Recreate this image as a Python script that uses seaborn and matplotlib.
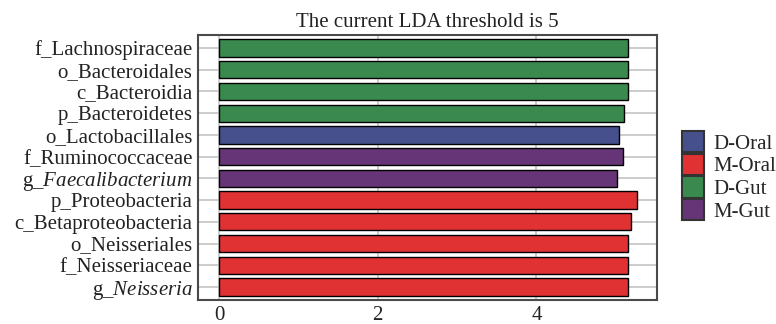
import matplotlib
matplotlib.use("Agg")
import matplotlib.pyplot as plt
import seaborn as sns
import pandas as pd

taxa = [
    "f_Lachnospiraceae", "o_Bacteroidales", "c_Bacteroidia", "p_Bacteroidetes",
    "o_Lactobacillales", "f_Ruminococcaceae", r"g_$\mathit{Faecalibacterium}$",
    "p_Proteobacteria", "c_Betaproteobacteria", "o_Neisseriales",
    "f_Neisseriaceae", r"g_$\mathit{Neisseria}$",
]
lda_scores = [5.15, 5.15, 5.15, 5.11, 5.04, 5.09, 5.02, 5.27, 5.19, 5.16, 5.16, 5.15]
groups = ["D-Gut", "D-Gut", "D-Gut", "D-Gut", "D-Oral", "M-Gut", "M-Gut",
          "M-Oral", "M-Oral", "M-Oral", "M-Oral", "M-Oral"]
group_order = ["D-Oral", "M-Oral", "D-Gut", "M-Gut"]
group_colors = ["#46508c", "#e03133", "#3a8a50", "#663577"]
x_ticks = [0, 2, 4]

FS = 15

sns.set_theme(style="white")
plt.rcParams["font.family"] = ["Liberation Serif", "DejaVu Serif"]
plt.rcParams["mathtext.fontset"] = "custom"
plt.rcParams["mathtext.rm"] = "Liberation Serif"
plt.rcParams["mathtext.it"] = "Liberation Serif:italic"

df = pd.DataFrame({"taxon": taxa, "lda": lda_scores, "group": groups})

fig = plt.figure(figsize=(7.76, 3.24), dpi=100)
ax = fig.add_axes([0.2552, 0.0741, 0.5914, 0.8179])

sns.barplot(data=df, x="lda", y="taxon", hue="group", hue_order=group_order,
            palette=dict(zip(group_order, group_colors)), order=taxa,
            dodge=False, width=0.8, edgecolor="black", linewidth=1.0,
            saturation=1, ax=ax, zorder=3)

ax.set_xlim(-0.265, 5.52)
ax.set_ylim(11.6, -0.6)
ax.set_xticks(x_ticks)
ax.set_xticklabels([str(t) for t in x_ticks])
ax.set_xlabel("")
ax.set_ylabel("")
ax.set_title("The current LDA threshold is 5", fontsize=FS, color="#222222", pad=6)

ax.grid(True, axis="both", color="#c8c8c8", linewidth=1.3, zorder=0)
ax.set_axisbelow(True)
for s in ax.spines.values():
    s.set_visible(True)
    s.set_color("#4a4a4a")
    s.set_linewidth(1.5)
ax.tick_params(axis="both", direction="in", length=4, width=1.2, color="#4a4a4a",
               labelsize=FS, labelcolor="#222222")
ax.tick_params(axis="y", pad=4)
ax.tick_params(axis="x", pad=4)

handles, labels = ax.get_legend_handles_labels()
ax.legend(handles, labels, loc="upper left", bbox_to_anchor=(682 / 776, 1 - 131 / 324),
          bbox_transform=fig.transFigure, frameon=False, fontsize=FS,
          handlelength=1.05, handleheight=1.2, labelspacing=0.0, handletextpad=0.45,
          borderpad=0, borderaxespad=0)
for h in ax.get_legend().get_patches():
    h.set_edgecolor("#333333")
    h.set_linewidth(1.5)

fig.savefig("out.png", dpi=100)
